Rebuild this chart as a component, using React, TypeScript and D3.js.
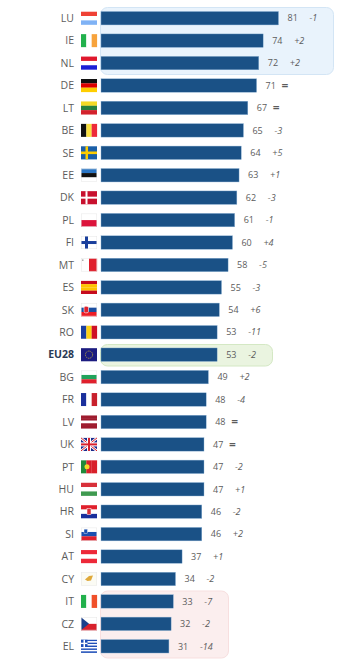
import React from "react";
import * as d3 from "d3";

const countries = ["LU","IE","NL","DE","LT","BE","SE","EE","DK","PL","FI","MT","ES","SK","RO","EU28","BG","FR","LV","UK","PT","HU","HR","SI","AT","CY","IT","CZ","EL"];
const values = [81,74,72,71,67,65,64,63,62,61,60,58,55,54,53,53,49,48,48,47,47,47,46,46,37,34,33,32,31];
const changes = ["-1","+2","+2","=","=","-3","+5","+1","-3","-1","+4","-5","-3","+6","-11","-2","+2","-4","=","=","-2","+1","-2","+2","+1","-2","-7","-2","-14"];

type Flag = { dir: "h" | "v"; colors: string[] };
const flags: Record<string, Flag> = {
  LU: { dir: "h", colors: ["#ef4135", "#ffffff", "#7fb2f5"] },
  IE: { dir: "v", colors: ["#22b14c", "#ffffff", "#f7a33c"] },
  NL: { dir: "h", colors: ["#e0182d", "#ffffff", "#1a1fd6"] },
  DE: { dir: "h", colors: ["#111111", "#dd0000", "#ffce00"] },
  LT: { dir: "h", colors: ["#f4d926", "#27803f", "#d3222c"] },
  BE: { dir: "v", colors: ["#111111", "#fae042", "#ed2939"] },
  SE: { dir: "h", colors: ["#1b5fa8"] },
  EE: { dir: "h", colors: ["#2a75c4", "#111111", "#ffffff"] },
  DK: { dir: "h", colors: ["#c8102e"] },
  PL: { dir: "h", colors: ["#ffffff", "#dc143c"] },
  FI: { dir: "h", colors: ["#ffffff"] },
  MT: { dir: "v", colors: ["#ffffff", "#e0202c"] },
  ES: { dir: "h", colors: ["#c60b1e", "#ffc400", "#ffc400", "#c60b1e"] },
  SK: { dir: "h", colors: ["#ffffff", "#1c4fa0", "#ee1c25"] },
  RO: { dir: "v", colors: ["#1a3fa0", "#fcd116", "#ce1126"] },
  EU28: { dir: "h", colors: ["#1c1c80"] },
  BG: { dir: "h", colors: ["#ffffff", "#21a35b", "#e0202c"] },
  FR: { dir: "v", colors: ["#1a2f9c", "#ffffff", "#c8202c"] },
  LV: { dir: "h", colors: ["#9e1b2e", "#9e1b2e", "#ffffff", "#9e1b2e", "#9e1b2e"] },
  UK: { dir: "h", colors: ["#1a2a8c"] },
  PT: { dir: "v", colors: ["#1f8a3a", "#d8202a", "#d8202a"] },
  HU: { dir: "h", colors: ["#d8303a", "#ffffff", "#3f9a50"] },
  HR: { dir: "h", colors: ["#e0202c", "#ffffff", "#1a2f9c"] },
  SI: { dir: "h", colors: ["#ffffff", "#1a4fb0", "#e0202c"] },
  AT: { dir: "h", colors: ["#ed2939", "#ffffff", "#ed2939"] },
  CY: { dir: "h", colors: ["#fbfbf4"] },
  IT: { dir: "v", colors: ["#22b14c", "#ffffff", "#f0502a"] },
  CZ: { dir: "h", colors: ["#ffffff", "#d8202c"] },
  EL: { dir: "h", colors: ["#1f4fb8", "#ffffff", "#1f4fb8", "#ffffff", "#1f4fb8", "#ffffff", "#1f4fb8", "#ffffff", "#1f4fb8"] },
};

const font = "'Open Sans', sans-serif";
const W = 355, H = 666;
const BAR_X = 101;
const x = d3.scaleLinear().domain([0, 81]).range([BAR_X, 278.5]);
const y = d3.scaleBand().domain(countries).range([7, 657.5]).paddingInner(0.4).paddingOuter(0.2);
const FX = 81, FW = 16, FH = 13;

function FlagIcon({ code, cy }: { code: string; cy: number }) {
  const f = flags[code];
  const top = cy - FH / 2;
  const n = f.colors.length;
  const stripes = f.colors.map((c, i) =>
    f.dir === "h"
      ? <rect key={i} x={FX} y={top + (i * FH) / n} width={FW} height={FH / n + 0.1} fill={c} />
      : <rect key={i} x={FX + (i * FW) / n} y={top} width={FW / n + 0.1} height={FH} fill={c} />
  );
  let extra: React.ReactNode = null;
  if (code === "SE") extra = <g fill="#fecc00"><rect x={FX + 4.5} y={top} width={2.5} height={FH} /><rect x={FX} y={top + 5.2} width={FW} height={2.6} /></g>;
  if (code === "DK") extra = <g fill="#fff"><rect x={FX + 4.5} y={top} width={2} height={FH} /><rect x={FX} y={top + 5.5} width={FW} height={2} /></g>;
  if (code === "FI") extra = <g fill="#1a3f9c"><rect x={FX + 4} y={top} width={3} height={FH} /><rect x={FX} y={top + 5} width={FW} height={3} /></g>;
  if (code === "MT") extra = <rect x={FX + 1} y={top + 1} width={1.5} height={1.5} fill="#aaa" />;
  if (code === "SK") extra = <rect x={FX + 3} y={top + 3} width={4.5} height={6.5} rx={1.5} fill="#e0202c" stroke="#fff" strokeWidth={0.6} />;
  if (code === "PT") extra = <circle cx={FX + 6} cy={cy} r={2.5} fill="#f4d926" />;
  if (code === "HR") extra = <rect x={FX + 6} y={top + 3.5} width={4} height={6} fill="#d8303a" stroke="#fff" strokeWidth={0.5} />;
  if (code === "SI") extra = <rect x={FX + 3} y={top + 1.5} width={3.5} height={4.5} fill="#1a4fb0" stroke="#fff" strokeWidth={0.4} />;
  if (code === "CY") extra = <path d={`M${FX + 4} ${cy + 0.5}L${FX + 8} ${cy - 3}L${FX + 12} ${cy - 3.5}L${FX + 10} ${cy + 1.5}L${FX + 6.5} ${cy + 2}Z`} fill="#e0a93a" />;
  if (code === "CZ") extra = <path d={`M${FX} ${top}L${FX + 8} ${cy}L${FX} ${top + FH}Z`} fill="#1a3f8c" />;
  if (code === "EL") extra = <g><rect x={FX} y={top} width={6.5} height={FH * 5 / 9} fill="#1f4fb8" /><rect x={FX + 2.5} y={top} width={1.5} height={FH * 5 / 9} fill="#fff" /><rect x={FX} y={top + 2.9} width={6.5} height={1.4} fill="#fff" /></g>;
  if (code === "EU28") extra = <circle cx={FX + FW / 2} cy={cy} r={3.6} fill="none" stroke="#c9b23a" strokeWidth={0.9} strokeDasharray="1 0.9" />;
  if (code === "UK") extra = (
    <g>
      <path d={`M${FX} ${top}L${FX + FW} ${top + FH}M${FX + FW} ${top}L${FX} ${top + FH}`} stroke="#fff" strokeWidth={2.6} />
      <path d={`M${FX} ${top}L${FX + FW} ${top + FH}M${FX + FW} ${top}L${FX} ${top + FH}`} stroke="#d8202c" strokeWidth={1} />
      <rect x={FX + 6} y={top} width={4} height={FH} fill="#fff" />
      <rect x={FX} y={top + 4.5} width={FW} height={4} fill="#fff" />
      <rect x={FX + 7} y={top} width={2} height={FH} fill="#d8202c" />
      <rect x={FX} y={top + 5.5} width={FW} height={2} fill="#d8202c" />
    </g>
  );
  const bordered = ["CY", "BG", "PL", "SK", "SI", "CZ", "FI", "MT", "EE"].includes(code);
  return (
    <g>
      {stripes}
      {extra}
      {bordered && <rect x={FX + 0.25} y={top + 0.25} width={FW - 0.5} height={FH - 0.5} fill="none" stroke="#e6e6e6" strokeWidth={0.5} />}
    </g>
  );
}

export default function App() {
  const rowY = (c: string) => y(c)! + y.bandwidth() / 2;
  const boxes = [
    { x: 100, y: 7, w: 233, h: 67, fill: "#e9f3fc", stroke: "#d3e5f5" },
    { x: 100, y: 344, w: 172, h: 21.5, fill: "#eaf4e0", stroke: "#d4e8c4" },
    { x: 100, y: 590.5, w: 128, h: 67, fill: "#fbeeee", stroke: "#f7dfdf" },
  ];
  return (
    <svg width={W} height={H} style={{ position: "absolute", left: 0, top: 0, background: "#fff" }} fontFamily={font}>
      {boxes.map((b, i) => (
        <rect key={i} x={b.x + 0.5} y={b.y + 0.5} width={b.w} height={b.h} rx={7} fill={b.fill} stroke={b.stroke} />
      ))}
      {countries.map((c, i) => {
        const cy = rowY(c);
        const end = x(values[i]);
        const isEU = c === "EU28";
        const eq = changes[i] === "=";
        return (
          <g key={c}>
            <text x={74} y={cy} dy="0.36em" textAnchor="end" fontSize={10.5} fontWeight={isEU ? 700 : 400} fill={isEU ? "#2a3a55" : "#5c5c5c"}>{c}</text>
            <FlagIcon code={c} cy={cy} />
            <rect x={BAR_X} y={y(c)!} width={end - BAR_X} height={y.bandwidth()} fill="#1a5186" stroke="#8fb4d6" strokeWidth={0.4} />
            <text x={end + 9} y={cy} dy="0.36em" fontSize={9} fill="#5c5c5c">{values[i]}</text>
            <text x={end + (eq ? 25 : 31)} y={cy} dy="0.36em" fontSize={eq ? 12 : 9} fontStyle={eq ? "normal" : "italic"} fontWeight={eq ? 600 : 400} fill="#5c5c5c">{changes[i]}</text>
          </g>
        );
      })}
    </svg>
  );
}
